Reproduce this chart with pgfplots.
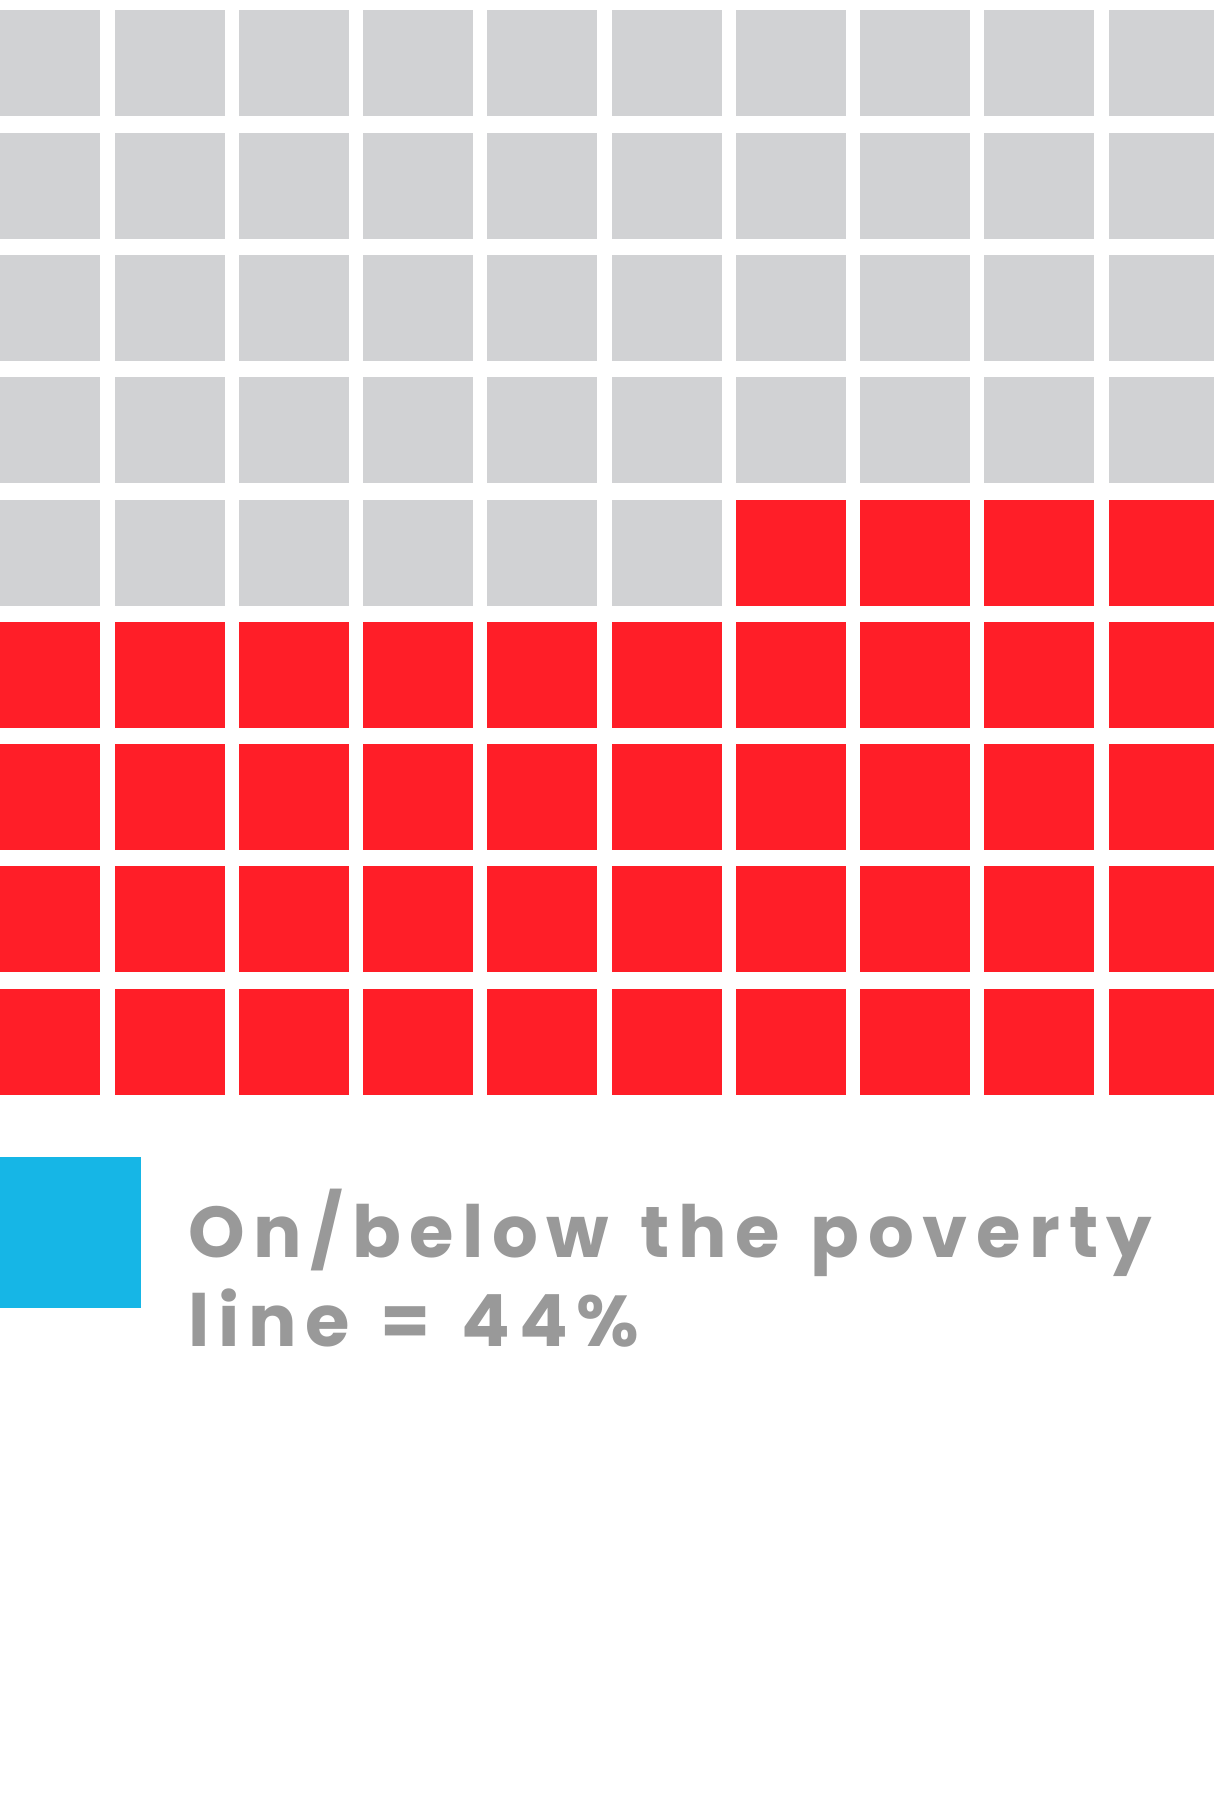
\documentclass[border=0pt]{standalone}
\usepackage{pgfplots}
\pgfplotsset{compat=1.18}
\usepackage{pgfplotstable}
\usepackage{fontspec}
\newfontfamily\lab[LetterSpace=12,WordSpace=1.3]{Poppins}
\definecolor{wgrey}{RGB}{209,210,212}
\definecolor{wred}{RGB}{255,30,40}
\definecolor{wblue}{RGB}{22,182,230}
\definecolor{tgrey}{RGB}{153,153,153}

\pgfplotstableread{
col row
0 0
1 0
2 0
3 0
4 0
5 0
6 0
7 0
8 0
9 0
0 1
1 1
2 1
3 1
4 1
5 1
6 1
7 1
8 1
9 1
0 2
1 2
2 2
3 2
4 2
5 2
6 2
7 2
8 2
9 2
0 3
1 3
2 3
3 3
4 3
5 3
6 3
7 3
8 3
9 3
0 4
1 4
2 4
3 4
4 4
5 4
}\greycells

\pgfplotstableread{
col row
6 4
7 4
8 4
9 4
0 5
1 5
2 5
3 5
4 5
5 5
6 5
7 5
8 5
9 5
0 6
1 6
2 6
3 6
4 6
5 6
6 6
7 6
8 6
9 6
0 7
1 7
2 7
3 7
4 7
5 7
6 7
7 7
8 7
9 7
0 8
1 8
2 8
3 8
4 8
5 8
6 8
7 8
8 8
9 8
}\redcells

\begin{document}
\begin{tikzpicture}
\begin{axis}[
  width=607pt, height=906.5pt, scale only axis,
  xmin=0, xmax=1214, ymin=0, ymax=1813, y dir=reverse,
  axis lines=none, xtick=\empty, ytick=\empty,
  axis background/.style={fill=white},
  clip marker paths=true,
]
\addplot[only marks, mark=square*, mark size=27.25pt,
  mark options={fill=wgrey, draw=wgrey, line width=0pt, yscale=0.9633}]
  table[x expr=45.25+124.25*\thisrow{col}, y expr=63.5+122.25*\thisrow{row}] {\greycells};
\addplot[only marks, mark=square*, mark size=27.25pt,
  mark options={fill=wred, draw=wred, line width=0pt, yscale=0.9633}]
  table[x expr=45.25+124.25*\thisrow{col}, y expr=63.5+122.25*\thisrow{row}] {\redcells};
\addplot[only marks, mark=square*, mark size=37.5pt,
  mark options={fill=wblue, draw=wblue, line width=0pt}]
  coordinates {(65,1232)};
\node[anchor=base west, inner sep=0pt, text=tgrey, font=\lab\bfseries\fontsize{36}{36}\selectfont] at (axis cs:188,1257) {On/below the poverty};
\node[anchor=base west, inner sep=0pt, text=tgrey, font=\lab\bfseries\fontsize{36}{36}\selectfont] at (axis cs:188,1346) {line = 44\%};
\end{axis}
\end{tikzpicture}
\end{document}
